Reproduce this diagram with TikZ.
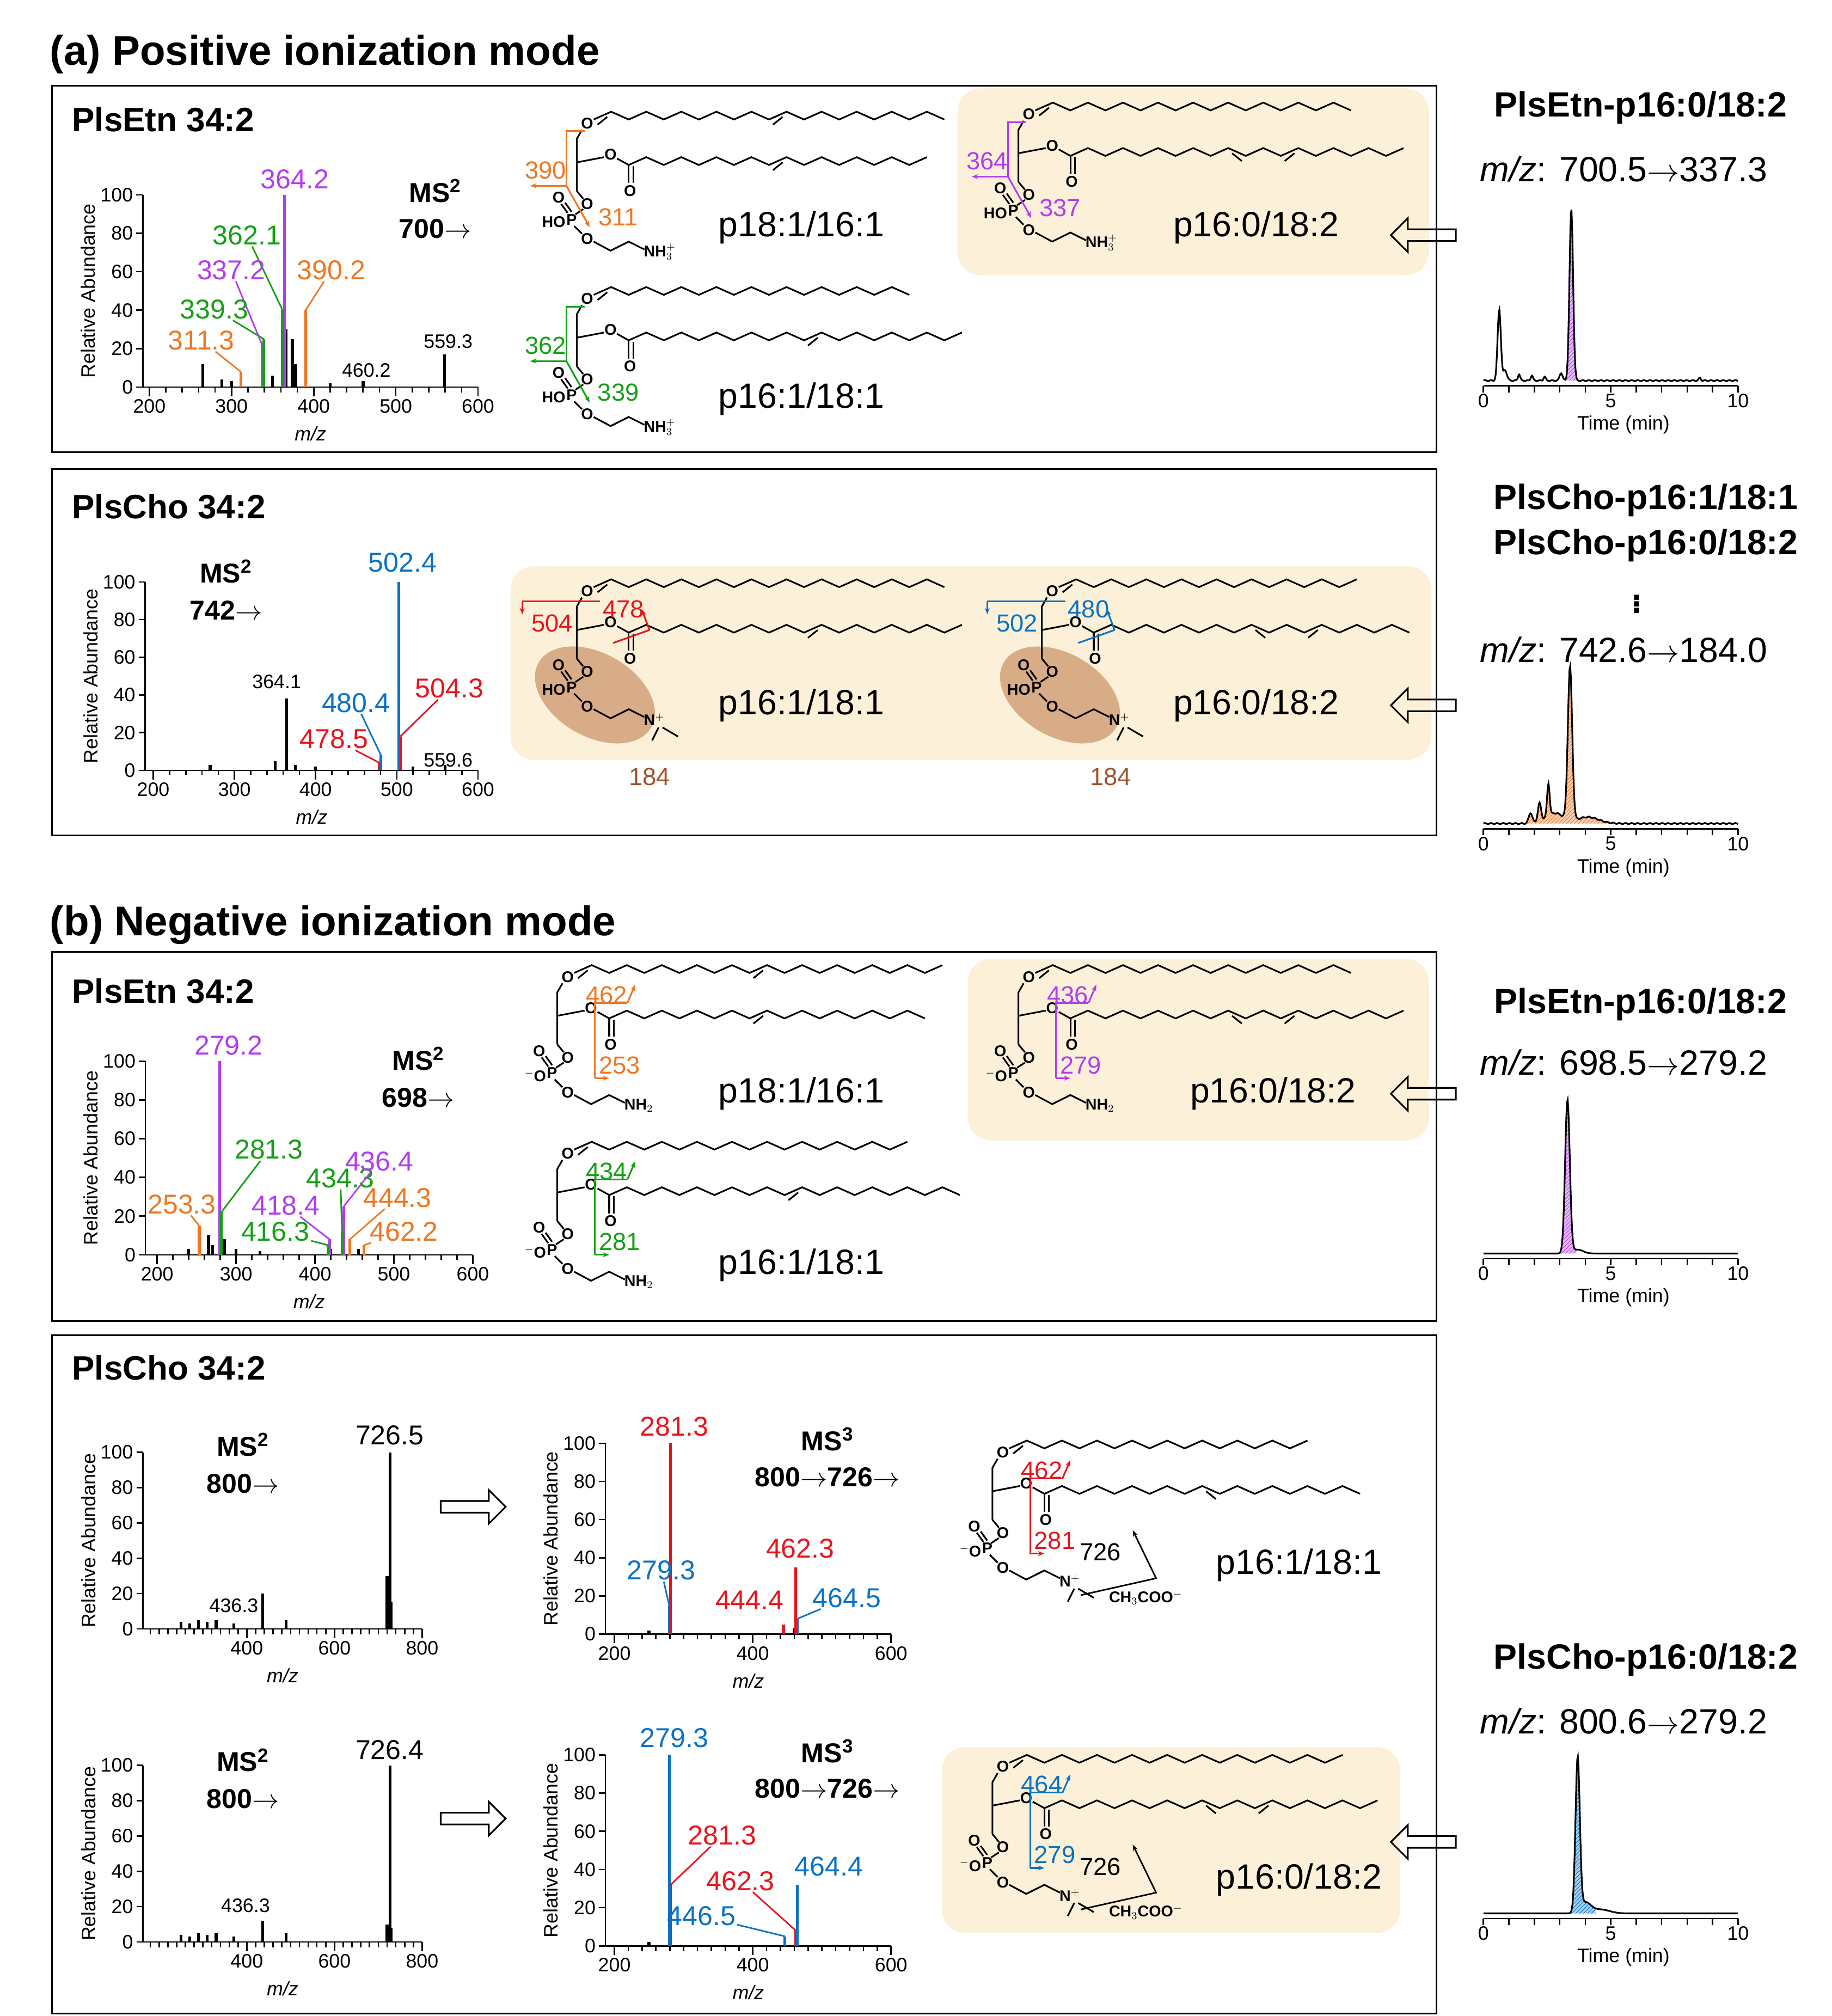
\documentclass[tikz,border=0pt]{standalone}
\usepackage{fontspec}
\setmainfont{Liberation Sans}
\usetikzlibrary{shapes.arrows,patterns,arrows.meta}
\definecolor{cor}{HTML}{EE7722}
\definecolor{cpu}{HTML}{B23CF0}
\definecolor{cgr}{HTML}{14A014}
\definecolor{cbl}{HTML}{0A72C4}
\definecolor{cre}{HTML}{E8141C}
\definecolor{cbg}{HTML}{FCF1D8}
\definecolor{cel}{HTML}{D9AC88}
\definecolor{cbr}{HTML}{A0522D}
\newcommand\Ax[4]{\draw[ax] (#1,0) -- (#2,0); \draw[ax] (#1,0) -- (#1,100);
 \foreach \v in {0,20,...,100}{\draw[ax] (#1,\v) -- +(-5pt,0) node[left,tick]{\v};}
 \foreach \m in {#3}{\draw[ax] (\m,0) -- +(0,-7pt) node[below,tick]{\m};}
 \foreach \m in {#4}{\draw[ax] (\m,0) -- +(0,-4pt);}
 \pgfmathsetmacro\midx{(#1+#2)/2}
 \node[tick] at ([yshift=-36pt]\midx,0) {\textit{m/z}};
 \node[tick,rotate=90] at ([xshift=-42pt]#1,50) {Relative Abundance};}
\newcommand\pk[4]{\draw[pk,#3] (#1,0) -- (#1,#2) coordinate (#4);}
\newcommand\Zig[4]{\draw[bond] (#1,#2) \foreach \i in {1,...,#3}{ -- ++(13.5,{ifthenelse(mod(\i,2)==1,-6,6)})};
 \foreach \k in {#4}{\pgfmathsetmacro\xa{#1+13.5*(\k-1)+3}\pgfmathsetmacro\ya{#2+ifthenelse(mod(\k-1,2)==1,-6,0)+4}\pgfmathsetmacro\xb{#1+13.5*\k-3}\pgfmathsetmacro\yb{#2+ifthenelse(mod(\k,2)==1,-6,0)+4}\draw[bond](\xa,\ya)--(\xb,\yb);}}
% #1 x #2 y #3 left group #4 head #5 n1 #6 d1 #7 n2 #8 d2
\newcommand\Lip[8]{\begin{scope}[shift={(#1,#2)}]
 \node[atom] at (0,0) {O};
 \draw[bond] (-4,5) -- (-8,12) -- (-8,52);
 \Zig{5}{-3}{#5}{#6}
 \node[atom] at (18,24) {O};
 \draw[bond] (-8,30) -- (13,26); \draw[bond] (23,27) -- (32,32);
 \draw[bond] (32,32) -- (32,46); \draw[bond] (35.5,33) -- (35.5,46);
 \node[atom] at (33,52) {O};
 \Zig{32}{32}{#7}{#8}
 \draw[bond] (-8,52) -- (-3,58); \node[atom] at (0,62) {O};
 \draw[bond] (-3,66) -- (-9,70); \node[atom] at (-12,74) {P};
 \draw[bond] (-15,69) -- (-20,62); \draw[bond] (-12,68) -- (-17,61); \node[atom] at (-22,57) {O};
 \node[atom,anchor=east] at (-16,76) {#3};
 \draw[bond] (-10,79) -- (-4,85); \node[atom] at (0,89) {O};
 \draw[bond] (5,91) -- (18,98) -- (32,91) -- (44,97);
 \node[atom,anchor=west] at (43,99) {#4};
\end{scope}}
\newcommand\Me[2]{\begin{scope}[shift={(#1,#2)}]\draw[bond] (55,105) -- (50,115); \draw[bond] (58,105) -- (70,112);\end{scope}}
\newcommand\AnnPE[5]{\begin{scope}[shift={(#1,#2)},#3,line width=1.3pt]
 \draw (-2,6) -- (-16,6) -- (-16,48); \draw[-{Stealth[length=5pt]}] (-16,48) -- (-44,48);
 \draw[-{Stealth[length=5pt]}] (-16,48) -- (2,80);
 \node[frag,#3] at (-32,36) {#4}; \node[frag,#3] at (24,72) {#5};\end{scope}}
\newcommand\AnnPC[5]{\begin{scope}[shift={(#1,#2)},#3,line width=1.3pt]
 \draw (10,8) -- (-50,8); \draw[-{Stealth[length=5pt]}] (-50,8) -- (-50,18);
 \draw (20,40) -- (48,30); \draw[-{Stealth[length=5pt]}] (48,30) -- (42,14);
 \node[frag,#3] at (-27,25) {#4}; \node[frag,#3] at (28,14) {#5};\end{scope}}
\newcommand\AnnN[5]{\begin{scope}[shift={(#1,#2)},#3,line width=1.3pt]
 \draw (21,78) -- (21,20) -- (46,20); \draw[-{Stealth[length=5pt]}] (46,20) -- (52,6);
 \draw[-{Stealth[length=5pt]}] (21,78) -- (32,78);
 \node[frag,#3] at (30,14) {#4}; \node[frag,#3] at (40,68) {#5};\end{scope}}
\newcommand\Chrom[5]{\begin{scope}[shift={(1142,#1)}, x={(19.6pt,0)}, y={(0,1pt)}]
 \fill[#3!35] plot[domain=#4:#5,samples=60] (\x,{#2}) -- (#5,4) -- (#4,4) -- cycle;
 \fill[pattern=north east lines, pattern color=#3] plot[domain=#4:#5,samples=60] (\x,{#2}) -- (#5,4) -- (#4,4) -- cycle;
 \draw[line width=1.3pt] plot[domain=0:10,samples=400] (\x,{#2});
 \draw[ax] (0,0) -- (10,0);
 \foreach \t in {0,...,10}{\draw[ax] (\t,0) -- +(0,-5pt);}
 \foreach \t in {0,5,10}{\node[tick,below] at ([yshift=-4pt]\t,0) {\t};}
 \node[tick] at ([yshift=-30pt]5.5,0) {Time (min)};
\end{scope}}
\begin{document}
\begin{tikzpicture}[x=1pt,y=-1pt,
 declare function={G(\a,\c,\w)=exp(-(min(abs((\a-\c)/\w),6))^2);},
 ax/.style={line width=1.1pt},
 tick/.style={font=\fontsize{15}{16}\selectfont,inner sep=2pt},
 pk/.style={line width=2.2pt,black},
 pl/.style={font=\fontsize{21}{22}\selectfont,inner sep=1pt},
 sl/.style={font=\fontsize{15}{16}\selectfont,inner sep=1pt},
 ms/.style={font=\fontsize{21}{24}\bfseries\selectfont,align=center},
 title/.style={font=\fontsize{32}{36}\bfseries\selectfont,anchor=west},
 box/.style={draw,line width=1.3pt},
 bt/.style={font=\fontsize{26}{30}\bfseries\selectfont,anchor=west},
 nm/.style={font=\fontsize{27}{30}\selectfont},
 rl/.style={font=\fontsize{27}{30}\bfseries\selectfont},
 rm/.style={font=\fontsize{27}{30}\selectfont},
 atom/.style={font=\fontsize{12}{12}\bfseries\selectfont,inner sep=0.5pt},
 bond/.style={line width=1.3pt},
 frag/.style={font=\fontsize{19}{20}\selectfont,inner sep=1pt},
 bg/.style={fill=cbg,rounded corners=18pt},
 harrow/.style={single arrow,draw,line width=1.3pt,minimum height=50pt,minimum width=26pt,single arrow head extend=5pt,inner sep=2pt}]
\useasboundingbox (0,0) rectangle (1410,1552);
% titles
\node[title] (ta) at (35,42) {(a) Positive ionization mode};
\node[title] (tb) at (35,712) {(b) Negative ionization mode};
% boxes
\draw[box] (40,66) rectangle (1106,348);
\draw[box] (40,361) rectangle (1106,643);
\draw[box] (40,733) rectangle (1106,1017);
\draw[box] (40,1028) rectangle (1106,1550);
\node[bt] (b1) at (52,92) {PlsEtn 34:2};
\node[bt] (b2) at (52,390) {PlsCho 34:2};
\node[bt] (b3) at (52,763) {PlsEtn 34:2};
\node[bt] (b4) at (52,1053) {PlsCho 34:2};
% backgrounds
\fill[bg] (737,68) rectangle (1100,212);
\fill[bg] (393,436) rectangle (1102,585);
\fill[bg] (745,738) rectangle (1100,878);
\fill[bg] (725,1345) rectangle (1078,1488);
% ===== S1
\begin{scope}[shift={(-11.5,298)},x={(0.6325pt,0)},y={(0,1.48pt)}]
\Ax{192}{600}{200,300,...,600}{220,240,...,580}
\foreach \m/\h in {265/12,288/4,300/3,350/6,366/30,374/25,378/12,420/2,460.2/3,559.3/17}{\draw[pk] (\m,0)--(\m,\h);}
\pk{311.3}{8}{cor}{a1}\pk{390.2}{40}{cor}{a2}\pk{337.2}{22}{cpu}{a3}\pk{364.2}{100}{cpu}{a4}\pk{339.3}{25}{cgr}{a5}\pk{362.1}{40}{cgr}{a6}
\end{scope}
\node[pl,cpu] (l4) at (227,138) {364.2};
\node[pl,cgr] (l6) at (190,181) {362.1}; \draw[cgr,line width=1.2pt] (l6) -- (a6);
\node[pl,cpu] (l3) at (178,208) {337.2}; \draw[cpu,line width=1.2pt] (l3) -- (a3);
\node[pl,cor] (l2) at (255,208) {390.2}; \draw[cor,line width=1.2pt] (l2) -- (a2);
\node[pl,cgr] (l5) at (165,238) {339.3}; \draw[cgr,line width=1.2pt] (l5) -- (a5);
\node[pl,cor] (l1) at (155,262) {311.3}; \draw[cor,line width=1.2pt] (l1) -- (a1);
\node[sl] (l7) at (282,285) {460.2};
\node[sl] (l8) at (345,263) {559.3};
\node[ms] (m1) at (335,147) {MS\textsuperscript{2}}; \node[ms] (m1b) at (335,176) {700$\rightarrow$};
% ===== S2
\begin{scope}[shift={(-7,593)},x={(0.625pt,0)},y={(0,1.45pt)}]
\Ax{190}{600}{200,300,...,600}{220,240,...,580}
\foreach \m/\h in {270/3,350/5,364.1/38,375/3,400/2,520/2,559.6/3}{\draw[pk] (\m,0)--(\m,\h);}
\pk{478.5}{4}{cre}{b1p}\pk{504.3}{18}{cre}{b2p}\pk{480.4}{8}{cbl}{b3p}\pk{502.4}{100}{cbl}{b4p}
\end{scope}
\node[pl,cbl] (k4) at (310,433) {502.4};
\node[sl] (k5) at (213,525) {364.1};
\node[pl,cbl] (k3) at (274,541) {480.4}; \draw[cbl,line width=1.2pt] (k3) -- (b3p);
\node[pl,cre] (k2) at (346,530) {504.3}; \draw[cre,line width=1.2pt] (k2) -- (b2p);
\node[pl,cre] (k1) at (257,569) {478.5}; \draw[cre,line width=1.2pt] (k1) -- (b1p);
\node[sl] (k6) at (345,585) {559.6};
\node[ms] (m2) at (174,440) {MS\textsuperscript{2}}; \node[ms] (m2b) at (174,470) {742$\rightarrow$};
% ===== S3
\begin{scope}[shift={(-0.5,966)},x={(0.6075pt,0)},y={(0,1.49pt)}]
\Ax{185}{600}{200,300,...,600}{220,240,...,580}
\foreach \m/\h in {240/3,265/10,270/5,285/8,300/3,330/2,420/3,455/3}{\draw[pk] (\m,0)--(\m,\h);}
\pk{253.3}{15}{cor}{c1}\pk{444.3}{8}{cor}{c2}\pk{462.2}{5}{cor}{c3}\pk{279.2}{100}{cpu}{c4}\pk{418.4}{8}{cpu}{c5}\pk{436.4}{25}{cpu}{c6}\pk{281.3}{22}{cgr}{c7}\pk{416.3}{5}{cgr}{c8}\pk{434.3}{12}{cgr}{c9}
\end{scope}
\node[pl,cpu] (n4) at (176,805) {279.2};
\node[pl,cgr] (n7) at (207,885) {281.3}; \draw[cgr,line width=1.2pt] (n7) -- (c7);
\node[pl,cgr] (n9) at (262,907) {434.3}; \draw[cgr,line width=1.2pt] (n9) -- (c9);
\node[pl,cpu] (n6) at (292,894) {436.4}; \draw[cpu,line width=1.2pt] (n6) -- (c6);
\node[pl,cor] (n2) at (306,922) {444.3}; \draw[cor,line width=1.2pt] (n2) -- (c2);
\node[pl,cor] (n1) at (140,927) {253.3}; \draw[cor,line width=1.2pt] (n1) -- (c1);
\node[pl,cpu] (n5) at (220,928) {418.4}; \draw[cpu,line width=1.2pt] (n5) -- (c5);
\node[pl,cgr] (n8) at (212,948) {416.3}; \draw[cgr,line width=1.2pt] (n8) -- (c8);
\node[pl,cor] (n3) at (311,948) {462.2}; \draw[cor,line width=1.2pt] (n3) -- (c3);
\node[ms] (m3) at (322,815) {MS\textsuperscript{2}}; \node[ms] (m3b) at (322,845) {698$\rightarrow$};
% ===== S4
\begin{scope}[shift={(55,1254)},x={(0.3375pt,0)},y={(0,1.36pt)}]
\Ax{163}{800}{400,600,800}{180,200,...,780}
\foreach \m/\h in {250/4,270/3,290/5,310/4,330/5,370/3,436.3/20,490/5,720/30,722/12,726.5/100,729/15}{\draw[pk] (\m,0)--(\m,\h);}
\end{scope}
\node[pl] (d1) at (300,1105) {726.5}; \node[sl] (d2) at (180,1236) {436.3};
\node[ms] (m4) at (187,1112) {MS\textsuperscript{2}}; \node[ms] (m4b) at (187,1142) {800$\rightarrow$};
\node[harrow] (h1) at (362,1160) {};
% ===== S5
\begin{scope}[shift={(366.5,1258)},x={(0.5325pt,0)},y={(0,1.47pt)}]
\Ax{187}{600}{200,400,600}{220,240,...,580}
\foreach \m/\h in {250/2,460/3}{\draw[pk] (\m,0)--(\m,\h);}
\pk{279.3}{15}{cbl}{e1}\pk{464.5}{8}{cbl}{e2}\pk{281.3}{100}{cre}{e3}\pk{444.4}{5}{cre}{e4}\pk{462.3}{35}{cre}{e5}
\end{scope}
\node[pl,cre] (f3) at (519,1098) {281.3};
\node[pl,cbl] (f1) at (509,1209) {279.3}; \draw[cbl,line width=1.2pt] (f1) -- (e1);
\node[pl,cre] (f4) at (577,1232) {444.4};
\node[pl,cre] (f5) at (616,1192) {462.3};
\node[pl,cbl] (f2) at (652,1230) {464.5}; \draw[cbl,line width=1.2pt] (f2) -- (e2);
\node[ms] (m5) at (637,1108) {MS\textsuperscript{3}}; \node[ms] (m5b) at (637,1137) {800$\rightarrow$726$\rightarrow$};
% ===== S6
\begin{scope}[shift={(55,1495)},x={(0.3375pt,0)},y={(0,1.36pt)}]
\Ax{163}{800}{400,600,800}{180,200,...,780}
\foreach \m/\h in {250/4,270/3,290/5,310/4,330/5,370/3,436.3/12,490/5,720/10,726.4/100,729/8}{\draw[pk] (\m,0)--(\m,\h);}
\end{scope}
\node[pl] (d3) at (300,1347) {726.4}; \node[sl] (d4) at (189,1467) {436.3};
\node[ms] (m6) at (187,1355) {MS\textsuperscript{2}}; \node[ms] (m6b) at (187,1385) {800$\rightarrow$};
\node[harrow] (h2) at (362,1400) {};
% ===== S7
\begin{scope}[shift={(366.5,1498)},x={(0.5325pt,0)},y={(0,1.47pt)}]
\Ax{187}{600}{200,400,600}{220,240,...,580}
\foreach \m/\h in {250/2}{\draw[pk] (\m,0)--(\m,\h);}
\pk{281.3}{32}{cre}{g2}\pk{462.3}{8}{cre}{g4}\pk{279.3}{100}{cbl}{g1}\pk{446.5}{5}{cbl}{g3}\pk{464.4}{32}{cbl}{g5}
\end{scope}
\node[pl,cbl] (j1) at (519,1338) {279.3};
\node[pl,cre] (j2) at (556,1413) {281.3}; \draw[cre,line width=1.2pt] (j2) -- (g2);
\node[pl,cre] (j4) at (570,1448) {462.3}; \draw[cre,line width=1.2pt] (j4) -- (g4);
\node[pl,cbl] (j5) at (638,1437) {464.4};
\node[pl,cbl] (j3) at (540,1475) {446.5}; \draw[cbl,line width=1.2pt] (j3) -- (g3);
\node[ms] (m7) at (637,1348) {MS\textsuperscript{3}}; \node[ms] (m7b) at (637,1377) {800$\rightarrow$726$\rightarrow$};
% ===== structures
\fill[cel,rotate around={-30:(458,535)}] (458,535) ellipse [x radius=50, y radius=32];
\fill[cel,rotate around={-30:(816,535)}] (816,535) ellipse [x radius=50, y radius=32];
\Lip{452}{95}{HO}{NH$_3^+$}{20}{1,11}{17}{9}
\AnnPE{452}{95}{cor}{390}{311}
\Lip{792}{88}{HO}{NH$_3^+$}{18}{1}{19}{10,13}
\AnnPE{792}{88}{cpu}{364}{337}
\Lip{452}{230}{HO}{NH$_3^+$}{18}{1}{19}{11}
\AnnPE{452}{230}{cgr}{362}{339}
\Lip{452}{455}{HO}{N$^+$}{20}{1}{19}{11}\Me{452}{455}
\AnnPC{452}{455}{cre}{504}{478}
\Lip{810}{455}{HO}{N$^+$}{17}{1}{18}{10,13}\Me{810}{455}
\AnnPC{810}{455}{cbl}{502}{480}
\node[frag,cbr] (x1) at (500,598) {184}; \node[frag,cbr] (x2) at (855,598) {184};
\Lip{437}{752}{$^{-}$O}{NH$_2$}{21}{1,11}{18}{9}
\AnnN{437}{752}{cor}{462}{253}
\Lip{792}{752}{$^{-}$O}{NH$_2$}{18}{1}{19}{10,13}
\AnnN{792}{752}{cpu}{436}{279}
\Lip{437}{888}{$^{-}$O}{NH$_2$}{19}{1}{20}{11}
\AnnN{437}{888}{cgr}{434}{281}
\Lip{772}{1118}{$^{-}$O}{N$^+$}{17}{1}{18}{10}\Me{772}{1118}
\AnnN{772}{1118}{cre}{462}{281}
\Lip{772}{1360}{$^{-}$O}{N$^+$}{19}{1}{19}{10,13}\Me{772}{1360}
\AnnN{772}{1360}{cbl}{464}{279}
\node[frag] (y1) at (847,1195) {726}; \draw[line width=1.2pt,-{Stealth[length=5pt]}] (832,1228) -- (890,1215) -- (872,1178);
\node[frag] (y2) at (847,1437) {726}; \draw[line width=1.2pt,-{Stealth[length=5pt]}] (832,1470) -- (890,1457) -- (872,1420);
\node[atom] (z1) at (882,1230) {CH$_3$COO$^-$};
\node[atom] (z2) at (882,1472) {CH$_3$COO$^-$};
% names
\node[nm] (s1) at (617,175) {p18:1/16:1};
\node[nm] (s2) at (967,175) {p16:0/18:2};
\node[nm] (s3) at (617,307) {p16:1/18:1};
\node[nm] (s4) at (617,543) {p16:1/18:1};
\node[nm] (s5) at (967,543) {p16:0/18:2};
\node[nm] (s6) at (617,842) {p18:1/16:1};
\node[nm] (s7) at (980,842) {p16:0/18:2};
\node[nm] (s8) at (617,974) {p16:1/18:1};
\node[nm] (s9) at (1000,1205) {p16:1/18:1};
\node[nm] (s10) at (1000,1447) {p16:0/18:2};
% hollow arrows
\node[harrow,shape border rotate=180] (r1) at (1098,181) {};
\node[harrow,shape border rotate=180] (r2) at (1098,543) {};
\node[harrow,shape border rotate=180] (r3) at (1098,842) {};
\node[harrow,shape border rotate=180] (r4) at (1098,1418) {};
% right labels
\node[rl] (q1) at (1263,83) {PlsEtn-p16:0/18:2};
\node[rm] (q2) at (1250,130) {\textit{m/z}: 700.5$\rightarrow$337.3};
\node[rl] (q3) at (1267,385) {PlsCho-p16:1/18:1};
\node[rl] (q4) at (1267,420) {PlsCho-p16:0/18:2};
\node[rl] (q5) at (1260,462) {$\vdots$};
\node[rm] (q6) at (1250,500) {\textit{m/z}: 742.6$\rightarrow$184.0};
\node[rl] (q7) at (1263,773) {PlsEtn-p16:0/18:2};
\node[rm] (q8) at (1250,818) {\textit{m/z}: 698.5$\rightarrow$279.2};
\node[rl] (q9) at (1267,1278) {PlsCho-p16:0/18:2};
\node[rm] (q10) at (1250,1325) {\textit{m/z}: 800.6$\rightarrow$279.2};
% chromatograms
\Chrom{297}{4+55*G(\x,0.62,0.09)+132*G(\x,3.45,0.1)+8*G(\x,0.85,0.1)+5*G(\x,1.4,0.06)+4*G(\x,1.9,0.06)+6*G(\x,3.05,0.08)+3*G(\x,2.4,0.06)+2*G(\x,8.5,0.06)+0.4*sin(\x*1500)}{cpu}{3.2}{3.75}
\Chrom{638}{4+118*G(\x,3.4,0.12)+25*G(\x,2.55,0.07)+14*G(\x,2.2,0.09)+8*G(\x,1.85,0.1)+8*G(\x,2.8,0.5)+5*G(\x,4.1,0.6)+0.4*sin(\x*1500)}{cor}{1.4}{5}
\Chrom{969}{4+118*G(\x,3.3,0.13)+3*G(\x,3.7,0.3)}{cpu}{3.0}{3.65}
\Chrom{1477}{4+118*G(\x,3.7,0.12)+8*G(\x,4.0,0.3)+3*G(\x,4.6,0.5)}{cbl}{3.4}{4.4}
\end{tikzpicture}
\end{document}
